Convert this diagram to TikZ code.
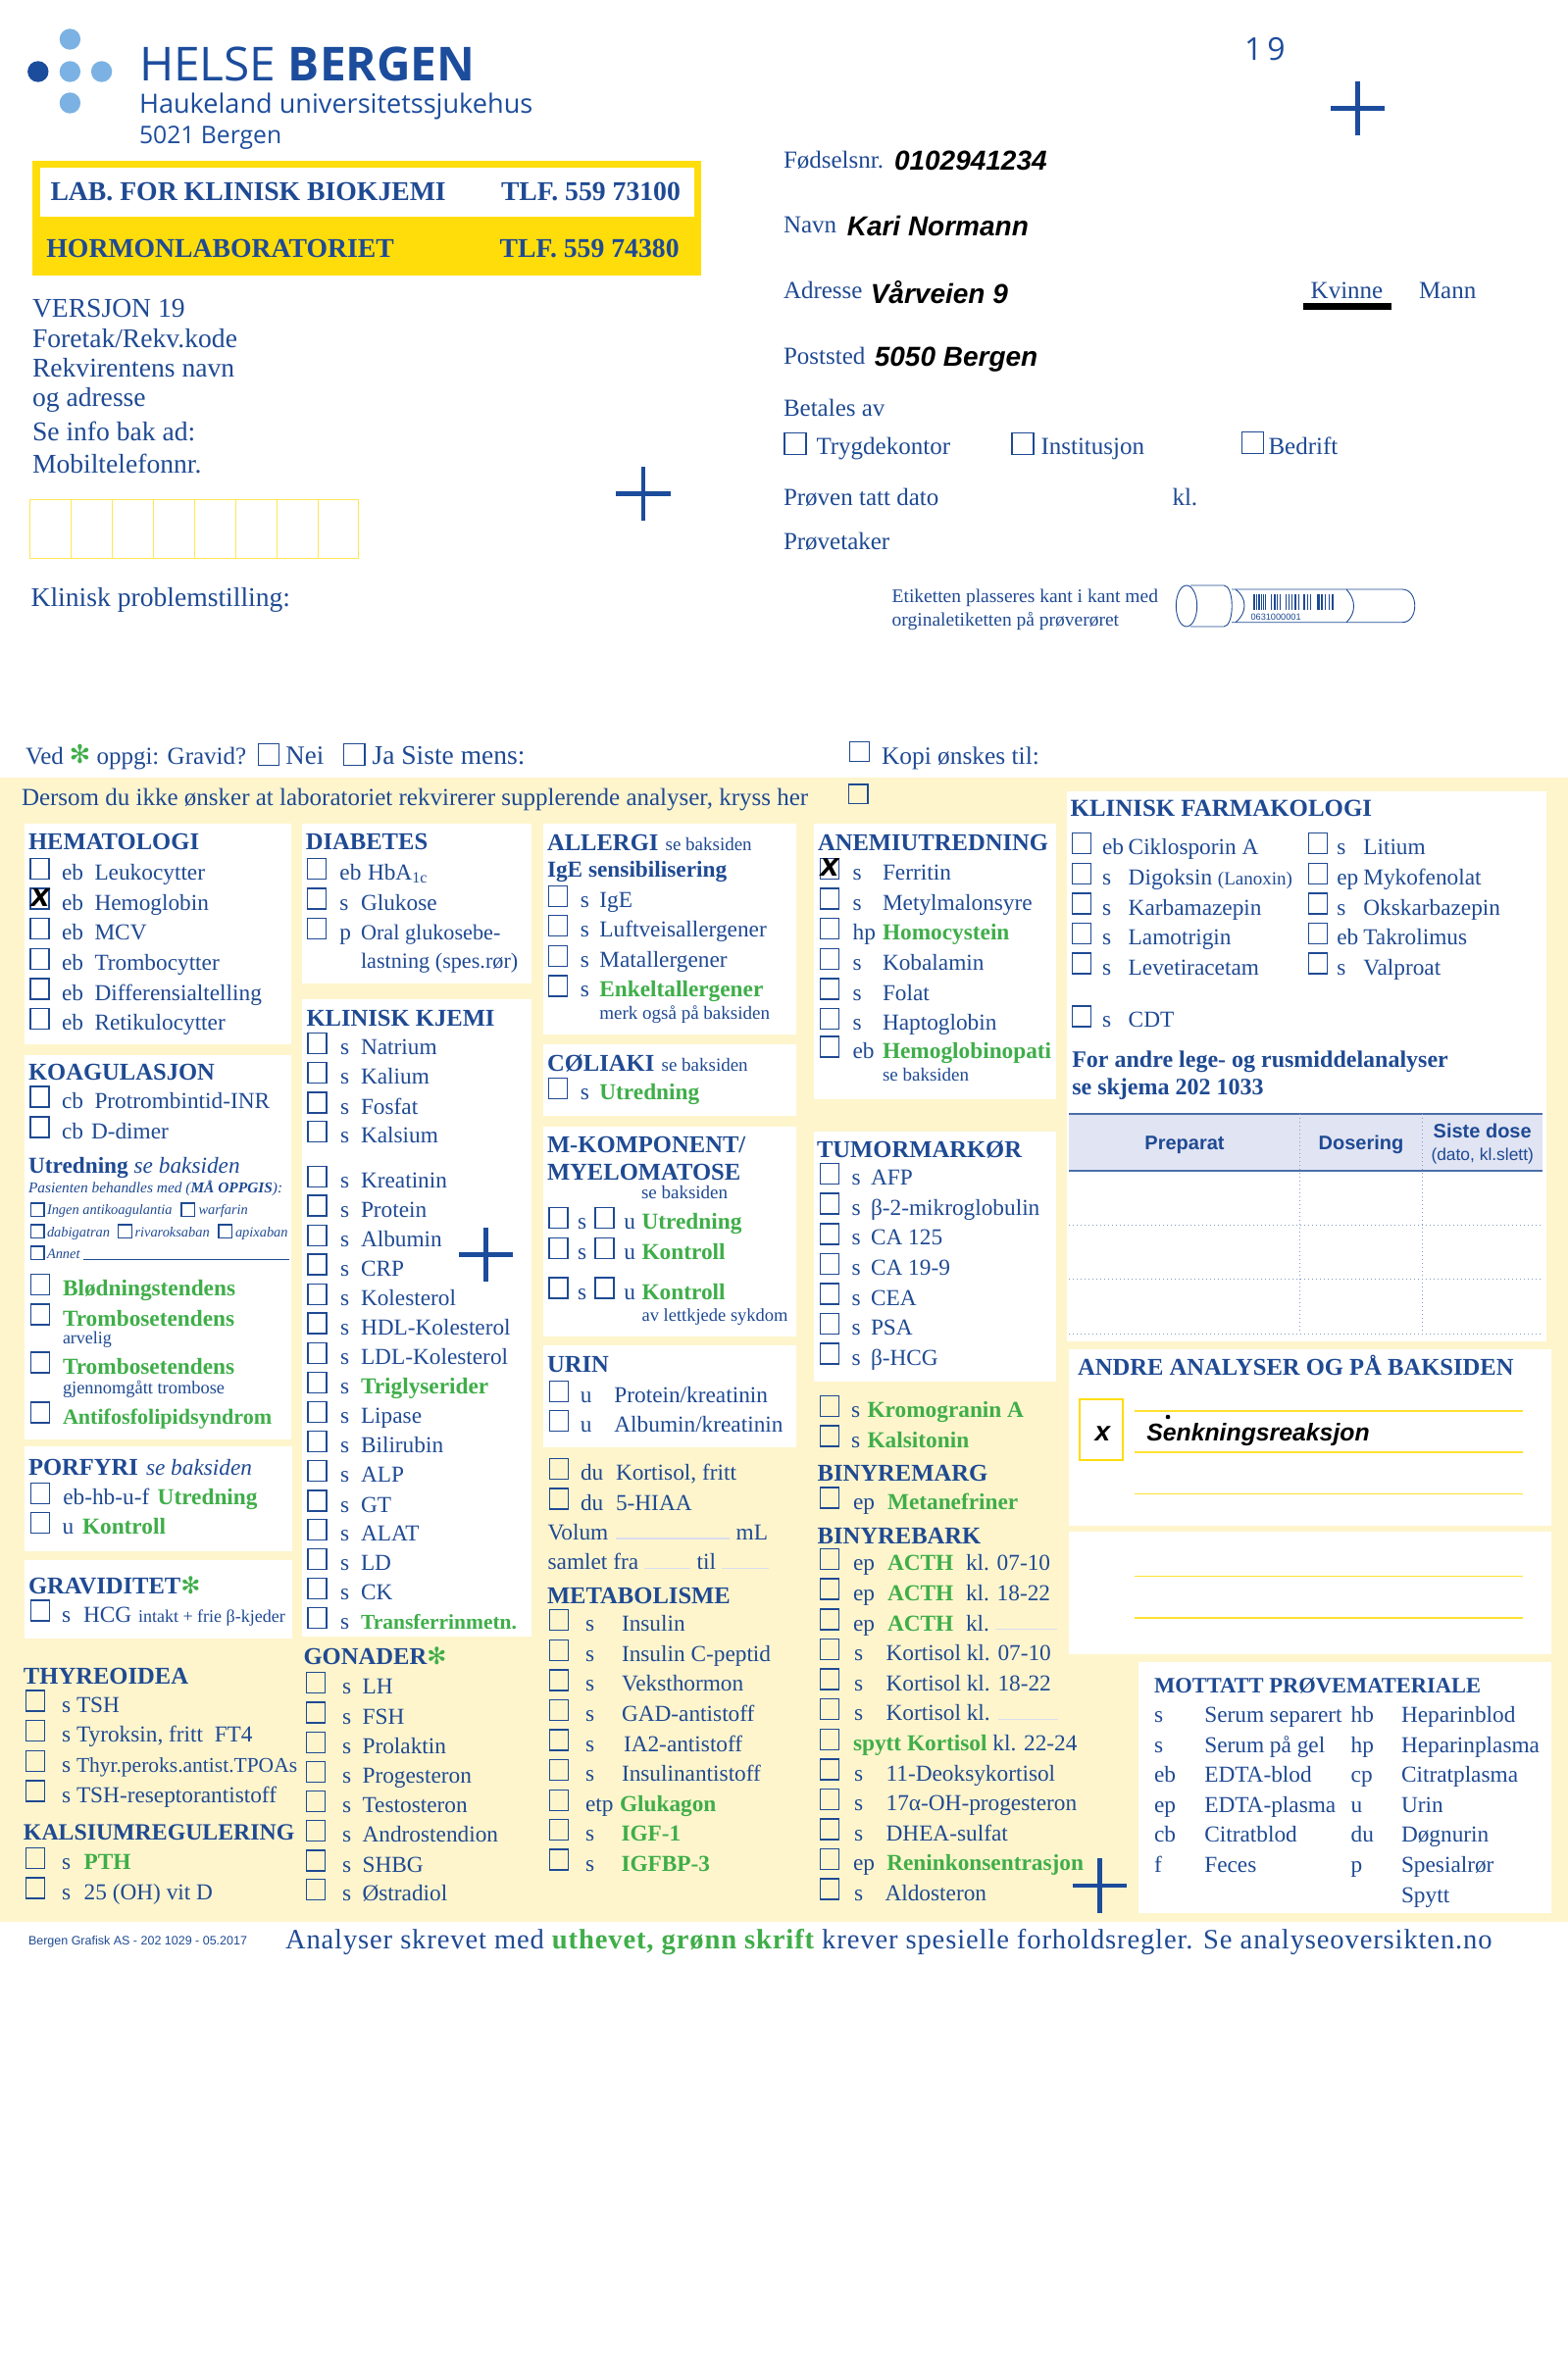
\documentclass[tikz,border=0pt]{standalone}
\usepackage{fontspec}
\setmainfont{Liberation Serif}
\setsansfont{Liberation Sans}
\newfontfamily\logof{Open Sans}
\newfontfamily\djv{DejaVu Sans}
\definecolor{blu}{HTML}{1F4A93}
\definecolor{logob}{HTML}{1C4C9C}
\definecolor{lightb}{HTML}{7BB2E3}
\definecolor{grn}{HTML}{3FAE49}
\definecolor{yel}{HTML}{FFDD0B}
\definecolor{cream}{HTML}{FEF5CD}
\definecolor{lav}{HTML}{E1E4F3}
\definecolor{fline}{HTML}{DADDEE}
\newcount\nn
\newcommand\nf{\fontsize{11.65}{13}\selectfont}
\newcommand\hf{\fontsize{12.3}{13}\selectfont\bfseries}
\newcommand\mf{\fontsize{9.75}{11}\selectfont}
\newcommand\pf{\fontsize{12.5}{14}\selectfont}
\newcommand\tf{\fontsize{13.8}{15}\selectfont}
\newcommand\hand{\sffamily\bfseries\itshape\color{black}\fontsize{14}{16}\selectfont}
\newcommand\gr[1]{{\color{grn}\bfseries #1}}
\newcommand\astk[1]{{\djv\color{grn}\fontsize{#1}{#1}\selectfont ✻}}
\newcommand\sitx{\fontsize{7.2}{9}\selectfont\itshape}
\tikzset{
  txt/.style={anchor=base west,inner sep=0pt,outer sep=0pt,text=blu,font=\nf},
  ctxt/.style={anchor=base,inner sep=0pt,outer sep=0pt,text=blu,font=\nf},
  cb/.style={draw=blu,line width=0.6pt},
  panel/.style={fill=white,draw=none},
  plusline/.style={draw=logob,line width=2.3pt},
  fieldline/.style={draw=fline,line width=0.6pt},
  yline/.style={draw=yel!85!white,line width=0.7pt},
  dotl/.style={draw=blu!55!white,line width=0.35pt,dash pattern=on 0.5pt off 1.5pt},
  tube/.style={draw=blu,line width=0.45pt},
}
\newcommand\tx[3]{\global\advance\nn by 1 \node[txt] (t\the\nn) at (#1,#2) {#3};}
\newcommand\ctx[3]{\global\advance\nn by 1 \node[ctxt] (t\the\nn) at (#1,#2) {#3};}
\newcommand\hd[3]{\tx{#1}{#2}{\hf #3}}
\newcommand\ck[2]{\draw[cb] (#1,#2-22) rectangle ++(19,21);}
\newcommand\lk[3]{\draw[cb] (#1,#2) rectangle ++(#3,#3);}
\newcommand\rw[3]{\ck{\bx}{#1}\tx{\cx}{#1}{#2}\tx{\lx}{#1}{#3}}
\newcommand\crossx[2]{\global\advance\nn by 1 \node[ctxt,font=\sffamily\bfseries\itshape\fontsize{17}{17}\selectfont,text=black] (t\the\nn) at (#1,#2) {x};}
\newcommand\plusm[2]{\draw[plusline] (#1-27.6,#2) -- (#1+27.6,#2); \draw[plusline] (#1,#2-27.6) -- (#1,#2+27.6);}
\newcommand\mkrow[2]{\ck{560}{#1}\tx{589}{#1}{s}\ck{607}{#1}\tx{636.4}{#1}{u}\tx{654.6}{#1}{\gr{#2}}}
\newcommand\acrow[2]{\rw{#1}{ep}{\gr{ACTH}}\tx{985}{#1}{#2}}
\newcommand\mtrow[5]{\tx{1177}{#1}{#2}\tx{1228.3}{#1}{#3}\tx{1377.7}{#1}{#4}\tx{1429}{#1}{#5}}
\begin{document}
\begin{tikzpicture}[x=0.5pt,y=-0.5pt]
\useasboundingbox (0,0) rectangle (1599,2418);
\fill[white] (0,0) rectangle (1599,2418);
% ---------- logo
\foreach \px/\py/\pc in {71.4/40/lightb,38.8/73/logob,71.4/73/lightb,103.6/73/lightb,71.4/105/lightb}
  \fill[\pc] (\px,\py) circle[radius=10.7];
\tx{142}{82.7}{\logof\color{logob}\fontsize{23.9}{26}\selectfont HELSE {\bfseries BERGEN}}
\tx{142}{115.3}{\logof\color{logob}\fontsize{13.55}{17}\selectfont Haukeland universitetssjukehus}
\tx{142}{147}{\logof\color{logob}\fontsize{12.35}{15}\selectfont 5021 Bergen}
\tx{1269}{62}{\logof\color{logob}\fontsize{16}{18}\selectfont 1\kern2.5pt 9}
% ---------- yellow header
\fill[yel] (33,164) rectangle (715,280.6);
\fill[white] (41,171.4) rectangle (707.6,221);
\tx{51.5}{205}{\fontsize{13.85}{15}\selectfont\bfseries LAB. FOR KLINISK BIOKJEMI}
\tx{511}{205}{\fontsize{13.85}{15}\selectfont\bfseries TLF. 559 73100}
\tx{47.4}{263}{\fontsize{13.85}{15}\selectfont\bfseries HORMONLABORATORIET}
\tx{509.7}{263}{\fontsize{13.85}{15}\selectfont\bfseries TLF. 559 74380}
\tx{33}{323.5}{\tf VERSJON 19}
\tx{33}{354.6}{\tf Foretak/Rekv.kode}
\tx{33}{385}{\tf Rekvirentens navn}
\tx{33}{415}{\tf og adresse}
\tx{33}{449}{\tf Se info bak ad:}
\tx{33}{482}{\tf Mobiltelefonnr.}
\draw[draw=yel!70!white,line width=0.35pt] (30.6,509) rectangle (365.8,569.4);
\foreach \gx in {72.5,114.4,156.3,198.2,240.1,282,323.9} \draw[draw=yel!70!white,line width=0.35pt] (\gx,509) -- (\gx,569.4);
\tx{31.6}{618}{\fontsize{13.8}{16}\selectfont Klinisk problemstilling:}
% ---------- patient fields
\tx{799}{171.4}{\pf Fødselsnr.}
\tx{912}{173.5}{\hand 0102941234}
\tx{799}{238}{\pf Navn}
\tx{863.8}{240.8}{\hand Kari Normann}
\tx{799}{305}{\pf Adresse}
\tx{887.8}{309.7}{\hand Vårveien 9}
\tx{1336.7}{305}{\pf Kvinne}
\tx{1447}{305}{\pf Mann}
\fill[black] (1328.6,308.7) rectangle (1419.4,315.7);
\tx{799}{371.4}{\pf Poststed}
\tx{891.8}{373.5}{\hand 5050 Bergen}
\tx{799}{424.5}{\pf Betales av}
\lk{800}{441.3}{22}
\tx{832.5}{463}{\pf Trygdekontor}
\lk{1032}{441.3}{22}
\tx{1061.5}{463}{\pf Institusjon}
\lk{1266.3}{440.3}{22}
\tx{1293.5}{463}{\pf Bedrift}
\tx{799}{515.8}{\pf Prøven tatt dato}
\tx{1195.5}{515.8}{\pf kl.}
\tx{799}{560}{\pf Prøvetaker}
\tx{909.7}{614.8}{\mf Etiketten plasseres kant i kant med}
\tx{909.7}{638}{\mf orginaletiketten på prøverøret}
% tube
\draw[tube] (1210,618) ellipse[x radius=10.7,y radius=21];
\draw[tube] (1214,597) -- (1248,597) .. controls (1259,597) and (1259,639) .. (1248,639) -- (1214,639);
\draw[tube] (1256,601) -- (1430,601) .. controls (1447,601) and (1447,634.7) .. (1430,634.7) -- (1256,634.7);
\draw[tube] (1260,601) .. controls (1272,610) and (1272,625) .. (1260,634.7);
\draw[tube] (1373,601) .. controls (1383,612) and (1383,625) .. (1373,634.7);
\foreach \bs/\bw in {1278/2,1281/1,1283/1.5,1286/1,1288/1,1290/.5,1296/1,1299/1.5,1302/1,1305/.5,1311/1,1314/1,1317/1,1320/2,1324/1,1329/2,1333/1,1336/1,1343/3,1347/1.5,1351/.5,1355/1,1358/1.5}
  \fill[blu] (\bs,606) rectangle ++(\bw,15.5);
\tx{1275.5}{632.6}{\sffamily\fontsize{4.6}{5}\selectfont 0631000001}
% ---------- pregnancy line
\tx{26}{779}{\pf Ved}
\global\advance\nn by 1 \node[inner sep=0pt,outer sep=0pt] (t\the\nn) at (81.6,769) {\astk{13}};
\tx{98.5}{779}{\pf oppgi: Gravid?}
\lk{263.3}{758.7}{21.5}
\tx{291.3}{779}{\fontsize{13.5}{15}\selectfont Nei}
\lk{350.5}{758.7}{21.5}
\tx{379.6}{779}{\fontsize{13.75}{15}\selectfont Ja Siste mens:}
\lk{866.3}{756.6}{20}
\tx{899}{779}{\fontsize{12.7}{15}\selectfont Kopi ønskes til:}
% ---------- band
\fill[cream] (0,793.4) rectangle (1599,1959.6);
\tx{22}{821.3}{\fontsize{12.5}{14}\selectfont Dersom du ikke ønsker at laboratoriet rekvirerer supplerende analyser, kryss her}
\lk{865.4}{800}{19.5}
\fill[panel] (25,840) rectangle (297,1065);
\fill[panel] (25,1076) rectangle (297,1468);
\fill[panel] (25,1475) rectangle (298,1582);
\fill[panel] (25,1591) rectangle (298,1671);
\fill[panel] (308,840) rectangle (542,1003);
\fill[panel] (308,1019) rectangle (542,1669);
\fill[panel] (553.6,840) rectangle (812,1055);
\fill[panel] (553.6,1065) rectangle (812,1138);
\fill[panel] (553.6,1148.5) rectangle (812,1363);
\fill[panel] (553.6,1372) rectangle (812,1476);
\fill[panel] (830,840) rectangle (1077,1121);
\fill[panel] (830,1154) rectangle (1077,1409);
\fill[panel] (1088,807) rectangle (1577,1368);
\fill[panel] (1090,1376) rectangle (1582,1556);
\fill[panel] (1090,1562) rectangle (1582,1687);
\fill[panel] (1161,1695) rectangle (1582,1951);
% ---------- HEMATOLOGI
\hd{29}{866}{HEMATOLOGI}
\def\bx{31}\def\cx{63}\def\lx{96.5}
\rw{897.5}{eb}{Leukocytter}
\rw{928}{eb}{Hemoglobin}
\crossx{41}{924}
\rw{958.7}{eb}{MCV}
\rw{989.3}{eb}{Trombocytter}
\rw{1020}{eb}{Differensialtelling}
\rw{1050.6}{eb}{Retikulocytter}
% KOAGULASJON
\hd{29}{1101.5}{KOAGULASJON}
\rw{1130}{cb}{Protrombintid-INR}
\def\lx{93}
\rw{1161}{cb}{D-dimer}
\tx{29}{1196}{\bfseries Utredning {\mdseries\itshape se baksiden}}
\tx{29}{1216}{\fontsize{7.7}{9}\selectfont\itshape Pasienten behandles med ({\bfseries MÅ OPPGIS}):}
\lk{31.4}{1227}{13.5}\tx{48}{1238.5}{\sitx Ingen antikoagulantia}
\lk{185}{1227}{13.5}\tx{202.5}{1238.5}{\sitx warfarin}
\lk{31.4}{1249}{13.5}\tx{48}{1261.5}{\sitx dabigatran}
\lk{120.7}{1249}{13.5}\tx{137.5}{1261.5}{\sitx rivaroksaban}
\lk{223}{1249}{13.5}\tx{240}{1261.5}{\sitx apixaban}
\lk{31.4}{1271}{13.5}\tx{48}{1283}{\sitx Annet}
\draw[blu,line width=0.4pt] (84.6,1284.5) -- (295,1284.5);
\def\lx{64}
\ck{31.5}{1321.5}\tx{64}{1321.5}{\gr{Blødningstendens}}
\ck{31.5}{1352}\tx{64}{1352}{\gr{Trombosetendens}}
\tx{64}{1370.5}{\fontsize{9}{11}\selectfont arvelig}
\ck{31.5}{1401}\tx{64}{1401}{\gr{Trombosetendens}}
\tx{64}{1421.6}{\fontsize{9.2}{11}\selectfont gjennomgått trombose}
\ck{31.5}{1452}\tx{64}{1452}{\gr{\fontsize{11.05}{13}\selectfont Antifosfolipidsyndrom}}
% PORFYRI
\tx{29}{1504.5}{\hf PORFYRI}
\tx{149}{1504.5}{\itshape se baksiden}
\ck{31.5}{1534.3}\tx{64.3}{1534.3}{eb-hb-u-f}\tx{160.7}{1534.3}{\gr{Utredning}}
\ck{31.5}{1564.5}\tx{63.6}{1564.5}{u}\tx{84}{1564.5}{\gr{Kontroll}}
% GRAVIDITET
\tx{29}{1625}{\hf GRAVIDITET\astk{12}}
\ck{31.5}{1654}\tx{63}{1654}{s}\tx{85}{1654}{HCG}\tx{141}{1654}{\fontsize{9}{11}\selectfont intakt + frie β-kjeder}
% THYREOIDEA
\hd{24}{1717}{THYREOIDEA}
\def\bx{26.4}\def\cx{63}\def\lx{78}
\rw{1746}{s}{TSH}
\rw{1776.7}{s}{Tyroksin, fritt\ \ FT4}
\rw{1807.4}{s}{\fontsize{10.75}{13}\selectfont Thyr.peroks.antist.TPOAs}
\rw{1838}{s}{TSH-reseptorantistoff}
\tx{24}{1876}{\fontsize{11.9}{13}\selectfont\bfseries KALSIUMREGULERING}
\def\lx{85.7}
\rw{1906.5}{s}{\gr{PTH}}
\rw{1937}{s}{25 (OH) vit D}
% DIABETES
\hd{311.8}{866}{DIABETES}
\def\bx{313.5}\def\cx{346.4}\def\lx{375}
\rw{897.5}{eb}{HbA{\raisebox{-1.5pt}{\fontsize{8}{8}\selectfont 1c}}}
\def\lx{368}
\rw{928}{s}{Glukose}
\rw{958.7}{p}{\fontsize{11.1}{13}\selectfont Oral glukosebe-}
\tx{368}{987.8}{\fontsize{11.1}{13}\selectfont lastning (spes.rør)}
% KLINISK KJEMI
\hd{312.5}{1046}{KLINISK KJEMI}
\def\bx{314}\def\cx{347}\def\lx{368}
\rw{1075.8}{s}{Natrium}
\rw{1105.7}{s}{Kalium}
\rw{1136}{s}{Fosfat}
\rw{1165.8}{s}{Kalsium}
\rw{1211.3}{s}{Kreatinin}
\rw{1241}{s}{Protein}
\rw{1271.4}{s}{Albumin}
\rw{1301}{s}{CRP}
\rw{1331.5}{s}{Kolesterol}
\rw{1361}{s}{HDL-Kolesterol}
\rw{1391.4}{s}{LDL-Kolesterol}
\rw{1421.6}{s}{\gr{Triglyserider}}
\rw{1451.8}{s}{Lipase}
\rw{1481.6}{s}{Bilirubin}
\rw{1511.8}{s}{ALP}
\rw{1542}{s}{GT}
\rw{1571.8}{s}{ALAT}
\rw{1601.6}{s}{LD}
\rw{1631.8}{s}{CK}
\rw{1661.6}{s}{\gr{\fontsize{10.75}{13}\selectfont Transferrinmetn.}}
\plusm{495.7}{1279.4}
% GONADER
\tx{309.6}{1697}{\hf GONADER\astk{12}}
\def\bx{312.5}\def\cx{349}\def\lx{369.6}
\rw{1727.8}{s}{LH}
\rw{1758}{s}{FSH}
\rw{1788.2}{s}{Prolaktin}
\rw{1818.4}{s}{Progesteron}
\rw{1848.6}{s}{Testosteron}
\rw{1878.8}{s}{Androstendion}
\rw{1909}{s}{SHBG}
\rw{1938.5}{s}{Østradiol}
% ALLERGI
\hd{558}{867}{ALLERGI}
\tx{678.6}{867}{\fontsize{9.5}{11}\selectfont se baksiden}
\tx{558}{894.8}{\bfseries IgE sensibilisering}
\def\bx{559.6}\def\cx{591.8}\def\lx{611.4}
\rw{925.4}{s}{IgE}
\rw{955.7}{s}{Luftveisallergener}
\rw{986.3}{s}{Matallergener}
\rw{1016.9}{s}{\gr{Enkeltallergener}}
\tx{611.4}{1039.5}{\fontsize{9.5}{11}\selectfont merk også på baksiden}
% COLIAKI
\hd{558}{1092}{CØLIAKI}
\tx{674.6}{1092}{\fontsize{9.5}{11}\selectfont se baksiden}
\rw{1121.8}{s}{\gr{Utredning}}
% M-KOMP
\hd{558}{1175.3}{M-KOMPONENT/}
\hd{558}{1203}{MYELOMATOSE}
\tx{654}{1222}{\fontsize{9.5}{11}\selectfont se baksiden}
\mkrow{1253.8}{Utredning}
\mkrow{1284.4}{Kontroll}
\mkrow{1325}{Kontroll}
\tx{654.6}{1347}{\fontsize{9.25}{11}\selectfont av lettkjede sykdom}
% URIN
\hd{558}{1399}{URIN}
\def\bx{560.4}\def\cx{591.8}\def\lx{626.4}
\rw{1430.6}{u}{Protein/kreatinin}
\rw{1460.8}{u}{Albumin/kreatinin}
\def\cx{592}\def\lx{628}
\rw{1509.4}{du}{Kortisol, fritt}
\rw{1540}{du}{5-HIAA}
\tx{558.6}{1570.6}{Volum}
\draw[fieldline] (627.5,1569) -- (743.6,1569);
\tx{750.7}{1570.6}{mL}
\tx{558.6}{1600.8}{samlet fra}
\draw[fieldline] (657,1599.6) -- (703.6,1599.6);
\tx{710.7}{1600.8}{til}
\draw[fieldline] (736.4,1599.6) -- (783.6,1599.6);
% METABOLISME
\hd{558}{1635}{METABOLISME}
\def\cx{597}\def\lx{634}
\rw{1663.7}{s}{Insulin}
\rw{1694.3}{s}{Insulin C-peptid}
\rw{1724.9}{s}{Veksthormon}
\rw{1755.5}{s}{GAD-antistoff}
\def\lx{636}
\rw{1786}{s}{IA2-antistoff}
\def\lx{634}
\rw{1816.3}{s}{Insulinantistoff}
\def\lx{632}
\rw{1847.3}{etp}{\gr{Glukagon}}
\def\lx{633.5}
\rw{1877.6}{s}{\gr{IGF-1}}
\rw{1908}{s}{\gr{IGFBP-3}}
% ANEMI
\hd{834}{867}{ANEMIUTREDNING}
\def\bx{836.4}\def\cx{869.6}\def\lx{900}
\rw{897.5}{s}{Ferritin}
\crossx{846}{893.5}
\rw{928}{s}{Metylmalonsyre}
\rw{958.7}{hp}{\gr{Homocystein}}
\rw{989.3}{s}{Kobalamin}
\rw{1020}{s}{Folat}
\rw{1050.6}{s}{Haptoglobin}
\rw{1079}{eb}{\gr{Hemoglobinopati}}
\tx{900}{1102.6}{\fontsize{9.5}{11}\selectfont se baksiden}
% TUMOR
\hd{833}{1180}{TUMORMARKØR}
\def\cx{868.6}\def\lx{888}
\rw{1208.6}{s}{AFP}
\rw{1239}{s}{β-2-mikroglobulin}
\rw{1269.9}{s}{CA 125}
\rw{1300.5}{s}{CA 19-9}
\rw{1331}{s}{CEA}
\rw{1361.7}{s}{PSA}
\rw{1392}{s}{β-HCG}
\def\cx{868}\def\lx{884.6}
\rw{1445.3}{s}{\gr{Kromogranin A}}
\rw{1476}{s}{\gr{Kalsitonin}}
\hd{833.6}{1510.6}{BINYREMARG}
\def\cx{870}\def\lx{905}
\rw{1539}{ep}{\gr{Metanefriner}}
\hd{833.6}{1574}{BINYREBARK}
\acrow{1601.6}{kl. 07-10}
\acrow{1632}{kl. 18-22}
\acrow{1663}{kl.}
\draw[fieldline] (1015,1661.6) -- (1077.5,1661.6);
\def\cx{871}\def\lx{903.6}
\rw{1693.5}{s}{Kortisol kl. 07-10}
\rw{1724}{s}{Kortisol kl. 18-22}
\rw{1754.7}{s}{Kortisol kl.}
\draw[fieldline] (1017.5,1753.5) -- (1079,1753.5);
\ck{\bx}{1785.3}\tx{870}{1785.3}{\gr{spytt Kortisol} kl. 22-24}
\rw{1816}{s}{11-Deoksykortisol}
\rw{1846.5}{s}{17α-OH-progesteron}
\rw{1877}{s}{DHEA-sulfat}
\def\cx{870}\def\lx{904.3}
\rw{1907.8}{ep}{\gr{Reninkonsentrasjon}}
\def\cx{871}\def\lx{902.5}
\rw{1938}{s}{Aldosteron}
\plusm{1121.3}{1923}
% KLINISK FARMAKOLOGI
\tx{1091.7}{832.8}{\fontsize{12.45}{14}\selectfont\bfseries KLINISK FARMAKOLOGI}
\def\bx{1093.3}\def\cx{1124}\def\lx{1150.7}
\rw{871.8}{eb}{Ciklosporin A}
\rw{902.5}{s}{Digoksin {\fontsize{9.5}{11}\selectfont (Lanoxin)}}
\rw{933}{s}{Karbamazepin}
\rw{963.7}{s}{Lamotrigin}
\rw{994}{s}{Levetiracetam}
\rw{1047.9}{s}{CDT}
\def\bx{1334.3}\def\cx{1363.3}\def\lx{1390.3}
\rw{871.8}{s}{Litium}
\rw{902.5}{ep}{Mykofenolat}
\rw{933}{s}{Okskarbazepin}
\rw{963.7}{eb}{Takrolimus}
\rw{994}{s}{Valproat}
\tx{1093.3}{1088}{\fontsize{12}{13}\selectfont\bfseries For andre lege- og rusmiddelanalyser}
\tx{1093.3}{1116.8}{\fontsize{12}{13}\selectfont\bfseries se skjema 202 1033}
% table
\fill[lav] (1090,1136) rectangle (1573,1194);
\draw[draw=blu!80!white,line width=1pt] (1090,1136) -- (1573,1136);
\draw[draw=blu!80!white,line width=1pt] (1090,1194) -- (1573,1194);
\draw[dotl] (1325,1136) -- (1325,1360);
\draw[dotl] (1450.7,1136) -- (1450.7,1360);
\draw[dotl] (1090,1249) -- (1573,1249);
\draw[dotl] (1090,1304.7) -- (1573,1304.7);
\draw[dotl] (1090,1360) -- (1573,1360);
\ctx{1208}{1172}{\sffamily\bfseries\fontsize{10}{12}\selectfont Preparat}
\ctx{1388}{1172}{\sffamily\bfseries\fontsize{10}{12}\selectfont Dosering}
\ctx{1511.7}{1160.8}{\sffamily\bfseries\fontsize{10}{12}\selectfont Siste dose}
\ctx{1511.7}{1183}{\sffamily\fontsize{8.7}{10}\selectfont (dato, kl.slett)}
% ANDRE
\tx{1099}{1402.4}{\fontsize{12.3}{15}\selectfont\bfseries ANDRE ANALYSER OG PÅ BAKSIDEN}
\draw[draw=yel,line width=1pt] (1100.7,1427) rectangle (1145.3,1488.6);
\ctx{1124.3}{1469.8}{\hand x}
\foreach \ly in {1439,1481,1523.7,1607.3,1650} \draw[yline] (1157.3,\ly) -- (1553,\ly);
\tx{1169.3}{1469}{\sffamily\bfseries\itshape\color{black}\fontsize{12.4}{14}\selectfont Senkningsreaksjon}
\fill[black] (1191,1445) circle[radius=2.3];
% MOTTATT
\tx{1177}{1726}{\fontsize{11.25}{13}\selectfont\bfseries MOTTATT PRØVEMATERIALE}
\mtrow{1756}{s}{Serum separert}{hb}{Heparinblod}
\mtrow{1787}{s}{Serum på gel}{hp}{Heparinplasma}
\mtrow{1817.6}{eb}{EDTA-blod}{cp}{Citratplasma}
\mtrow{1848}{ep}{EDTA-plasma}{u}{Urin}
\mtrow{1878.8}{cb}{Citratblod}{du}{Døgnurin}
\mtrow{1909}{f}{Feces}{p}{Spesialrør}
\tx{1429}{1940}{Spytt}
% footer
\tx{29}{1983}{\sffamily\fontsize{6.25}{7}\selectfont Bergen Grafisk AS - 202 1029 - 05.2017}
\tx{291}{1987}{\fontsize{14.3}{16}\selectfont\addfontfeature{LetterSpace=3}Analyser skrevet med {\color{grn}\bfseries uthevet, grønn skrift} krever spesielle forholdsregler. Se analyseoversikten.no}
% plus marks
\plusm{656}{503.6}
\plusm{1384.7}{110.7}
\end{tikzpicture}
\end{document}
